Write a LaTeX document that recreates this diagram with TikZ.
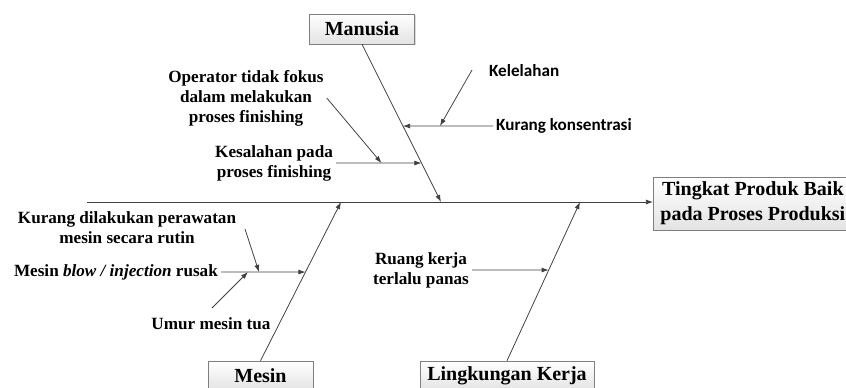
\documentclass[tikz,border=0pt]{standalone}
\usepackage{fontspec}
\setmainfont{Liberation Serif}
\newfontfamily\calibrifont{Carlito}
\usetikzlibrary{arrows.meta,calc,shadows}
\definecolor{linegray}{HTML}{404040}
\definecolor{boxline}{HTML}{7F7F7F}

\begin{document}
\begin{tikzpicture}[x=0.7pt,y=-0.7pt,
  bone/.style={draw=linegray,line width=0.55pt,-{Latex[length=5pt,width=3.5pt]}},
  cause/.style={font=\fontsize{12}{14}\selectfont\bfseries,align=center,inner sep=2pt},
  subcause/.style={font=\calibrifont\bfseries\fontsize{12}{14}\selectfont,inner sep=2pt},
  catbox/.style={draw=boxline,top color=white,bottom color=gray!22,
    drop shadow={shadow xshift=1pt,shadow yshift=-1pt,fill=gray!55},
    font=\fontsize{14}{17.5}\selectfont\bfseries,align=center,
    inner xsep=5pt,minimum width=73.5pt,minimum height=21pt}]
\clip (0,0) rectangle (846,387);

%boxes
\node[catbox] (manusia) at (362,29) {Manusia};
\node[catbox] (mesin) at (260.5,376) {Mesin};
\node[catbox] (lingkungan) at (507,376) {Lingkungan Kerja};
\node[catbox,anchor=west] (tingkat) at (653,203.5) {Tingkat Produk Baik\\pada Proses Produksi};

%spine and bones
\coordinate (tail) at (87,202);
\coordinate (mhead) at (441,202);
\coordinate (mshead) at (341,202);
\coordinate (lhead) at (580,202);
\draw[bone] (tail) -- (tail -| tingkat.west);
\draw[bone] (manusia.south) -- (mhead);
\draw[bone] (mesin.north) -- (mshead);
\draw[bone] (lingkungan.north) -- (lhead);

%manusia
\node[subcause,anchor=west] (konsentrasi) at (493,126) {Kurang konsentrasi};
\node[subcause,anchor=west] (kelelahan) at (486,71) {Kelelahan};
\node[cause,anchor=east] (kesalahan) at (336,163) {Kesalahan pada\\proses finishing};
\node[cause] (operator) at (246,98) {Operator tidak fokus\\dalam melakukan\\proses finishing};
\coordinate (m1) at (intersection of manusia.south--mhead and konsentrasi.west--konsentrasi.east);
\coordinate (m2) at (intersection of manusia.south--mhead and kesalahan.west--kesalahan.east);
\coordinate (k0) at (472,70);
\draw[bone] (konsentrasi.west) -- (m1);
\draw[bone] (k0) -- ($(m1)+(37,0)$);
\draw[bone] (kesalahan.east) -- (m2);
\draw[bone] (operator.east) -- ($(m2)+(-40,0)$);

%mesin
\node[cause,anchor=east] (blow) at (221,272) {Mesin \textit{blow / injection} rusak};
\node[cause] (rutin) at (127,228) {Kurang dilakukan perawatan\\mesin secara rutin};
\node[cause] (umur) at (211,324) {Umur mesin tua};
\coordinate (s1) at (intersection of mesin.north--mshead and blow.west--blow.east);
\coordinate (r0) at (245,229);
\coordinate (u0) at (212,308);
\draw[bone] (blow.east) -- (s1);
\draw[bone] (r0) -- ($(blow.east)+(38,0)$);
\draw[bone] (u0) -- ($(blow.east)+(27,0)$);

%lingkungan kerja
\node[cause] (ruang) at (421,270) {Ruang kerja\\terlalu panas};
\coordinate (l1) at (intersection of lingkungan.north--lhead and ruang.west--ruang.east);
\draw[bone] (ruang.east) -- (l1);
\end{tikzpicture}
\end{document}
